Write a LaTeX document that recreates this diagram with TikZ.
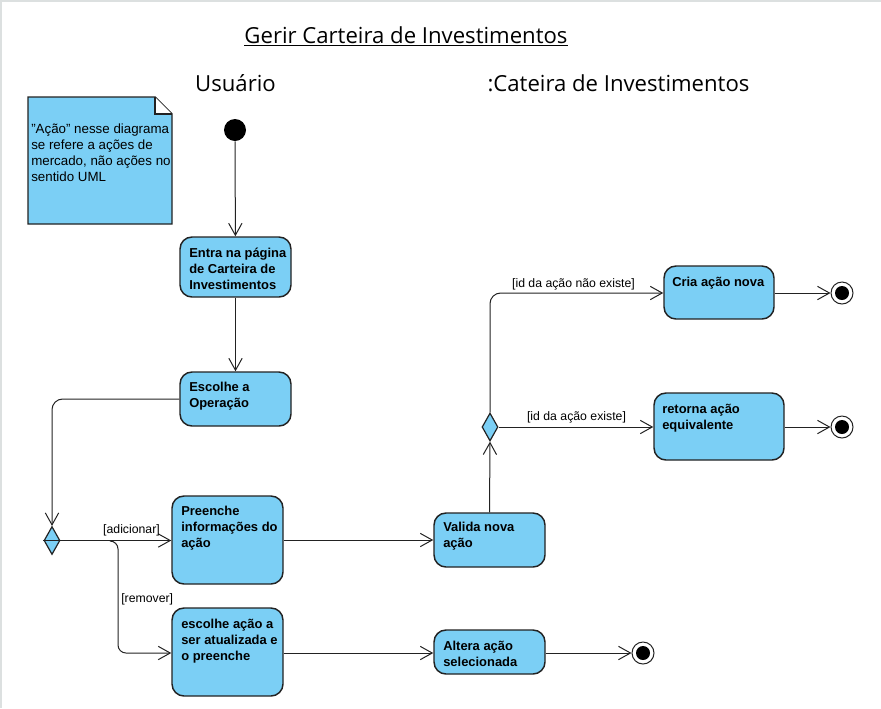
\documentclass[tikz,border=0pt]{standalone}
\usepackage{fontspec}
\setmainfont{Liberation Sans}
\newfontfamily\titlefont{Open Sans}
\usetikzlibrary{arrows.meta,shapes.geometric}
\definecolor{actblue}{RGB}{123,207,245}
\definecolor{edge}{RGB}{34,34,34}
\definecolor{frame}{RGB}{220,224,224}
\tikzset{
  act/.style={draw=edge,fill=actblue,line width=1.1pt,rounded corners=9pt,inner sep=0pt},
  acttext/.style={anchor=north west,align=left,inner sep=0pt,font=\bfseries\fontsize{9.7}{12}\selectfont},
  flow/.style={draw=edge,line width=0.75pt,-{Straight Barb[length=9pt,width=10pt,line width=0.75pt]}},
  plain/.style={draw=edge,line width=0.75pt},
  guard/.style={font=\fontsize{9.2}{11}\selectfont,inner sep=0pt},
  decision/.style={draw=edge,fill=actblue,line width=0.9pt},
  lane/.style={font=\titlefont\fontsize{16.6}{19}\selectfont,inner sep=0pt},
}
\begin{document}
\begin{tikzpicture}[x=0.75pt,y=-0.75pt]
\useasboundingbox (0,0) rectangle (881,708);
\draw[frame,line width=1.2pt] (0.8,708) -- (0.8,0.8) -- (881,0.8);
% title and lanes
\node[lane,anchor=base] (title) at (406,43) {\underline{Gerir Carteira de Investimentos}};
\node[lane,anchor=base] (lane1) at (235.5,91) {Usuário};
\node[lane,anchor=base] (lane2) at (618.5,91) {:Cateira de Investimentos};
% note
\draw[draw=edge,fill=actblue,line width=1.1pt] (28,97) -- (155,97) -- (172,114) -- (172,224) -- (28,224) -- cycle;
\draw[draw=edge,fill=white,line width=0.8pt] (155,97) -- (155,114) -- (172,114);
\node[anchor=north west,align=left,inner sep=0pt,font=\fontsize{10}{12}\selectfont] (note) at (31,124) {"Ação" nesse diagrama\\se refere a ações de\\mercado, não ações no\\sentido UML};
% initial
\node[circle,fill=black,inner sep=0pt,minimum size=16.5pt] (init) at (235,130) {};
% activities
\node[act,minimum width=83.25pt,minimum height=45pt] (entra) at (235.5,267) {};
\node[acttext] at (189,248) {Entra na página\\de Carteira de\\Investimentos};
\node[act,minimum width=83.25pt,minimum height=40.5pt] (escolhe) at (235.5,399) {};
\node[acttext] at (189,382) {Escolhe a\\Operação};
\node[act,minimum width=83.25pt,minimum height=66pt] (preenche) at (227.5,540) {};
\node[acttext] at (181,506) {Preenche\\informações do\\ação};
\node[act,minimum width=83.25pt,minimum height=66pt] (escolheacao) at (227.5,652) {};
\node[acttext] at (181,619) {escolhe ação a\\ser atualizada e\\o preenche};
\node[act,minimum width=83.25pt,minimum height=40.5pt] (valida) at (489.5,540) {};
\node[acttext] at (443,522) {Valida nova\\ação};
\node[act,minimum width=83.25pt,minimum height=33pt] (altera) at (489.5,652) {};
\node[acttext] at (443,641) {Altera ação\\selecionada};
\node[act,minimum width=82.5pt,minimum height=39.75pt] (cria) at (719,292.5) {};
\node[acttext] at (672,277) {Cria ação nova};
\node[act,minimum width=97.5pt,minimum height=50.25pt] (retorna) at (719,426.5) {};
\node[acttext] at (662,404) {retorna ação\\equivalente};
% decisions
\node[diamond,decision,minimum width=12pt,minimum height=21pt,inner sep=0pt] (d1) at (52,540.5) {};
\node[diamond,decision,minimum width=12pt,minimum height=21pt,inner sep=0pt] (d2) at (490,427) {};
% finals
\node[circle,draw=edge,fill=white,line width=0.75pt,minimum size=16.5pt,inner sep=0pt] (f1) at (842,293) {};
\node[circle,fill=black,minimum size=10.5pt,inner sep=0pt] at (f1) {};
\node[circle,draw=edge,fill=white,line width=0.75pt,minimum size=16.5pt,inner sep=0pt] (f2) at (842,427) {};
\node[circle,fill=black,minimum size=10.5pt,inner sep=0pt] at (f2) {};
\node[circle,draw=edge,fill=white,line width=0.75pt,minimum size=16.5pt,inner sep=0pt] (f3) at (643,653) {};
\node[circle,fill=black,minimum size=10.5pt,inner sep=0pt] at (f3) {};
% flows
\draw[flow] (init) -- (entra);
\draw[flow] (entra) -- (escolhe);
\draw[flow,rounded corners=8pt] (escolhe.west) -- (52,399) -- (d1.north);
\draw[plain] (d1.west) -- (d1.east);
\draw[flow] (d1.east) -- (preenche.west |- d1.east);
\node[guard,anchor=base] (gadd) at (131.5,533) {[adicionar]};
\coordinate (split) at (110,541);
\draw[flow,rounded corners=6pt] (split) -- (118,541) -- (118,653) -- (escolheacao.west |- 0,653);
\node[guard,anchor=base west] (grem) at (121,602) {[remover]};
\draw[flow] (preenche.east) -- (valida.west);
\draw[flow] (escolheacao.east |- 0,653) -- (altera.west |- 0,653);
\draw[flow] (altera.east |- 0,653) -- (f3);
\draw[flow] (valida.north) -- (d2.south);
\draw[flow] (d2.east) -- (retorna.west |- d2.east);
\node[guard,anchor=base] (gex) at (576.5,420) {[id da ação existe]};
\draw[flow,rounded corners=8pt] (d2.north) -- (490,293) -- (cria.west |- 0,293);
\node[guard,anchor=base] (gnex) at (573.5,287) {[id da ação não existe]};
\draw[flow] (cria.east |- 0,293) -- (f1);
\draw[flow] (retorna.east |- 0,427) -- (f2);
\end{tikzpicture}
\end{document}
